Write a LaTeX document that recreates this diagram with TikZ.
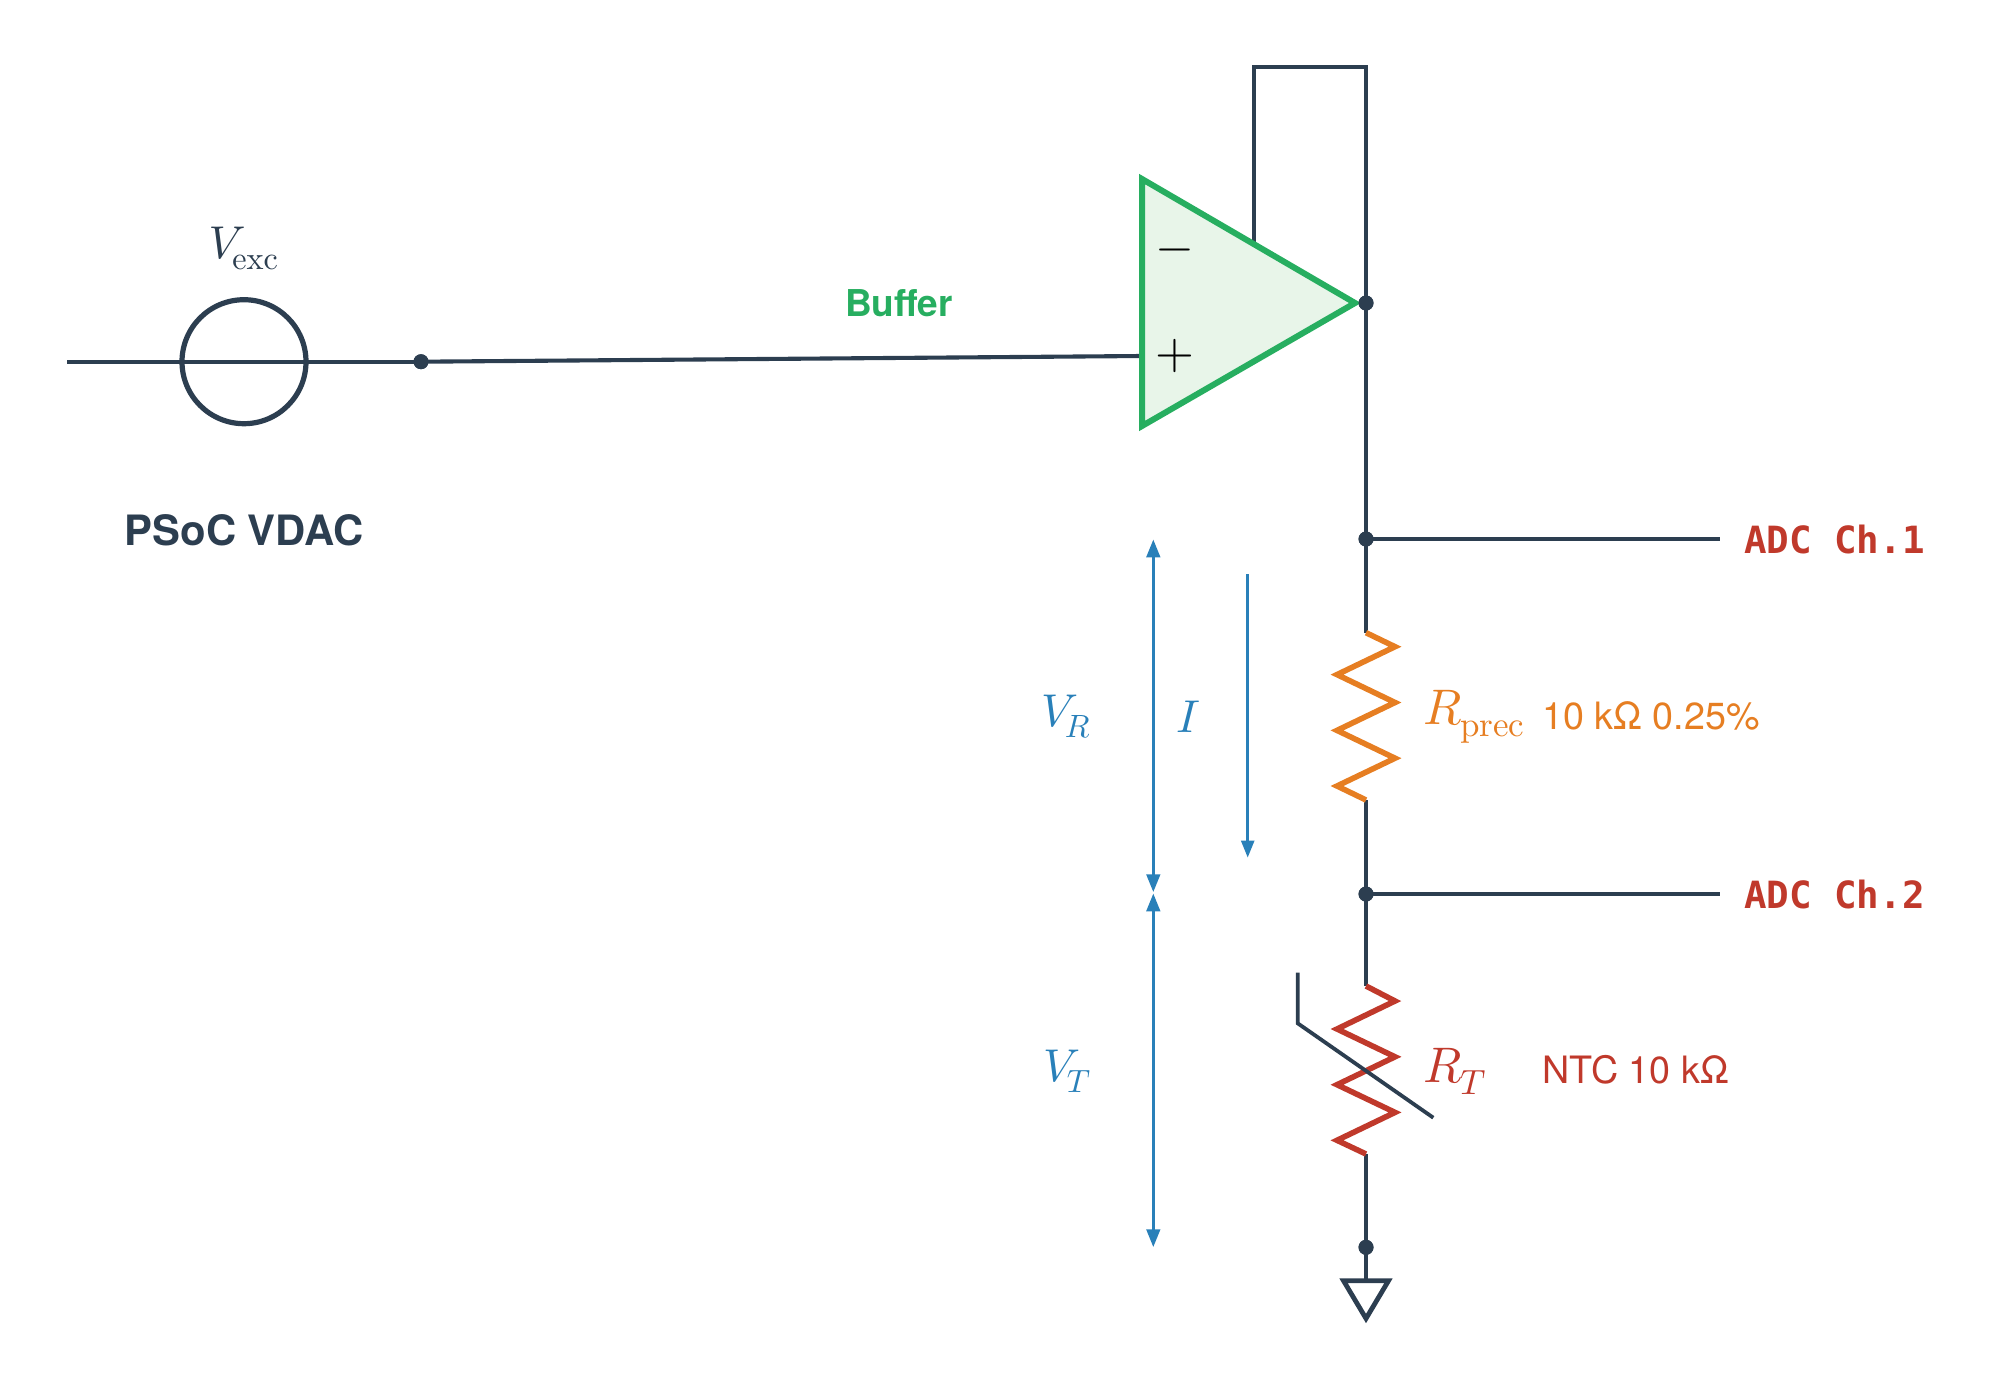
\documentclass[tikz,border=0pt]{standalone}
\usepackage{fontspec}
\usetikzlibrary{arrows.meta}
\newfontfamily\helv{TeX Gyre Heros}
\newfontfamily\monob{DejaVu Sans Mono}
\definecolor{dark}{HTML}{2C3E50}
\definecolor{sgreen}{HTML}{27AE60}
\definecolor{lgreen}{HTML}{E8F5E9}
\definecolor{sorange}{HTML}{E67E22}
\definecolor{sred}{HTML}{C0392B}
\definecolor{sblue}{HTML}{2980B9}
\newcommand{\msubrm}[2]{\kern#1pt\raisebox{-2.4pt}{\scalebox{0.7}{$\mathrm{#2}$}}}
\newcommand{\msubit}[2]{\kern#1pt\raisebox{-2.4pt}{\scalebox{0.7}{$#2$}}}
\tikzset{
  wire/.style={draw=dark,line width=4.1pt,line join=miter},
  junction/.style={circle,fill=dark,inner sep=0pt,minimum size=15pt},
  txt/.style={inner sep=0pt,outer sep=0pt,anchor=base west},
  sans/.style={txt,font=\helv\fontsize{37.7}{44}\selectfont},
  mathlabel/.style={inner sep=0pt,outer sep=0pt,anchor=base west,scale=4.6},
  mathlabelb/.style={inner sep=0pt,outer sep=0pt,anchor=base west,scale=5},
  res/.style={line width=5.6pt,line join=miter,miter limit=10},
  vdimb/.style={draw=sblue,line width=3.5pt,{Triangle[length=18pt,width=13.3pt]}-{Triangle[length=18pt,width=13.3pt]}},
  adc/.style={txt,font=\monob\bfseries\fontsize{37.5}{44}\selectfont,text=sred}
}
\begin{document}
\begin{tikzpicture}[x=1pt,y=-1pt]
\useasboundingbox (0,0) rectangle (1991,1386);
% named points
\coordinate (in) at (67,361.7);
\coordinate (top) at (1366,66.7);
\coordinate (fbtop) at (1253.7,66.7);
\coordinate (fbend) at (1253.7,245);
\coordinate (plus) at (1142,356);
\coordinate (oa1) at (1142,179);
\coordinate (oa2) at (1142,426);
\coordinate (oa3) at (1355,303);
\coordinate (ch1) at (1720,539);
\coordinate (ch2) at (1720,894);
\coordinate (r1t) at (1366,632.7);
\coordinate (r1b) at (1366,800);
\coordinate (r2t) at (1366,986);
\coordinate (r2b) at (1366,1154);
\coordinate (gtop) at (1366,1280.7);
\coordinate (g1) at (1343.5,1280.7);
\coordinate (g2) at (1388.5,1280.7);
\coordinate (g3) at (1366,1318.5);
\coordinate (s1) at (1297.7,972.7);
\coordinate (s2) at (1297.7,1023.3);
\coordinate (s3) at (1433.3,1117.7);
\coordinate (vr1) at (1153.3,539.3);
\coordinate (vr2) at (1153.3,892.3);
\coordinate (vt1) at (1153.3,893.3);
\coordinate (vt2) at (1153.3,1247.3);
\coordinate (i1) at (1247.7,574.3);
\coordinate (i2) at (1247.7,857.7);
% junctions
\node[junction] (d1) at (421,361.7) {};
\node[junction] (dout) at (1366,303) {};
\node[junction] (d2) at (1366,539) {};
\node[junction] (d3) at (1366,894) {};
\node[junction] (d4) at (1366,1247.3) {};
% source
\draw[wire] (in) -- (d1.center);
\node[circle,draw=dark,line width=5.2pt,inner sep=0pt,minimum size=124pt] (src) at (244,361.7) {};
% wires
\draw[wire] (d1.center) -- (plus);
\draw[wire] (fbend) -- (fbtop) -- (top) -- (dout.center);
\draw[wire] (dout.center) -- (d2.center);
\draw[wire] (d2.center) -- (r1t);
\draw[wire] (d2.center) -- (ch1);
\draw[wire] (r1b) -- (d3.center);
\draw[wire] (d3.center) -- (r2t);
\draw[wire] (d3.center) -- (ch2);
\draw[wire] (r2b) -- (d4.center);
\draw[wire] (d4.center) -- (gtop);
\draw[wire,line width=4.8pt] (g1) -- (g2) -- (g3) -- cycle;
% op amp
\draw[draw=sgreen,fill=lgreen,line width=6pt,line join=miter,miter limit=10] (oa1) -- (oa3) -- (oa2) -- cycle;
\node[inner sep=0pt,scale=5] (minus) at (1174.5,250) {$-$};
\node[inner sep=0pt,scale=5] (plussign) at (1174.5,356) {$+$};
% resistors
\draw[res,draw=sorange] (r1t) -- (1395,646.7) -- (1337,674.6) -- (1395,702.5) -- (1337,730.4) -- (1395,758.2) -- (1337,786) -- (r1b);
\draw[res,draw=sred] (r2t) -- (1395,1001) -- (1337,1029) -- (1395,1056.8) -- (1337,1084.7) -- (1395,1112.4) -- (1337,1140.3) -- (r2b);
\draw[wire,line width=3.8pt] (s1) -- (s2) -- (s3);
% junctions on top
\node[junction] at (dout) {};
\node[junction] at (d1) {};
\node[junction] at (d2) {};
\node[junction] at (d3) {};
\node[junction] at (d4) {};
% arrows
\draw[vdimb] (vr1) -- (vr2);
\draw[vdimb] (vt1) -- (vt2);
\draw[draw=sblue,line width=3.1pt,-{Triangle[length=17pt,width=12.7pt]}] (i1) -- (i2);
% labels
\node[mathlabel,text=dark] (lvexc) at (208.5,258) {$V\msubrm{-2.89}{exc}$};
\node[txt,anchor=base,font=\helv\bfseries\fontsize{41.8}{50}\selectfont,text=dark] (lpsoc) at (244,545) {PSoC VDAC};
\node[txt,anchor=base,font=\helv\bfseries\fontsize{37}{44}\selectfont,text=sgreen] (lbuf) at (899,316) {Buffer};
\node[mathlabel,text=sblue] (lvr) at (1041,726) {$V\msubit{-2.89}{R}$};
\node[mathlabel,text=sblue] (li) at (1176,732) {$I$};
\node[mathlabel,text=sblue] (lvt) at (1043,1081) {$V\msubit{-2.89}{T}$};
\node[mathlabelb,text=sorange] (lrp) at (1423,724) {$R\msubrm{-0.27}{prec}$};
\node[mathlabelb,text=sred] (lrt) at (1423,1082) {$R\msubit{-0.27}{T}$};
\node[sans,text=sorange] (vrp) at (1542.5,729.3) {10 kΩ 0.25\%};
\node[sans,text=sred] (vrt) at (1542.5,1083.5) {NTC 10 kΩ};
\node[adc] (a1) at (1744,553) {ADC Ch.1};
\node[adc] (a2) at (1744,908) {ADC Ch.2};
\end{tikzpicture}
\end{document}
